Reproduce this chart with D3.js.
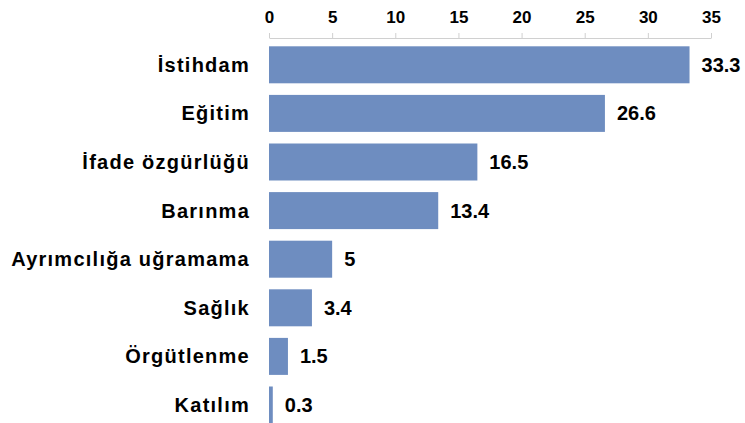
<!DOCTYPE html>
<html><head><meta charset="utf-8">
<script src="https://cdn.jsdelivr.net/npm/d3@7"></script>
<style>body{margin:0;background:#fff}svg{display:block}text{font-family:"Liberation Sans",Arial,sans-serif;font-weight:bold;fill:#000}</style>
</head><body><svg id="c" width="745" height="423"></svg>
<script>
const categories = ["İstihdam","Eğitim","İfade özgürlüğü","Barınma","Ayrımcılığa uğramama","Sağlık","Örgütlenme","Katılım"];
const values = [33.3,26.6,16.5,13.4,5,3.4,1.5,0.3];
const valueLabels = ["33.3","26.6","16.5","13.4","5","3.4","1.5","0.3"];
const tickValues = [0,5,10,15,20,25,30,35];

const svg = d3.select("#c");
const x = d3.scaleLinear().domain([0,35]).range([269,711]);
const y = d3.scaleBand().domain(categories).range([34.7,435.1]).padding(0.2387);

// top axis
const ax = svg.append("g").attr("transform","translate(0,38)")
  .call(d3.axisTop(x).tickValues(tickValues).tickSize(5).tickPadding(10).tickSizeOuter(0));
ax.select(".domain").attr("stroke","#d0d0d0");
ax.selectAll(".tick line").attr("stroke","#d0d0d0");
ax.selectAll(".tick text").attr("font-size",17).style("font-family","Liberation Sans, Arial, sans-serif").style("font-weight","bold").attr("fill","#000");

svg.append("g").selectAll("rect").data(values).join("rect")
  .attr("x",x(0)).attr("y",(d,i)=>y(categories[i]))
  .attr("width",d=>x(d)-x(0)).attr("height",y.bandwidth())
  .attr("fill","#6e8dc0");

svg.append("g").selectAll("text").data(categories).join("text")
  .attr("x",250).attr("y",d=>y(d)+y.bandwidth()/2).attr("dy","0.35em")
  .attr("text-anchor","end").attr("font-size",20).attr("letter-spacing",1.25).text(d=>d);

svg.append("g").selectAll("text").data(values).join("text")
  .attr("x",d=>x(d)+12).attr("y",(d,i)=>y(categories[i])+y.bandwidth()/2).attr("dy","0.35em")
  .attr("font-size",20).text((d,i)=>valueLabels[i]);
</script></body></html>
